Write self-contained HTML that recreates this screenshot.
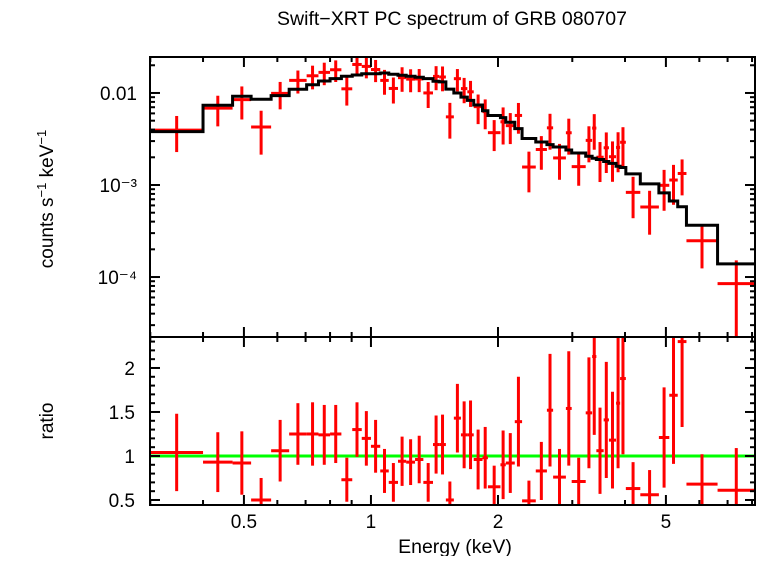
<!DOCTYPE html>
<html><head><meta charset="utf-8">
<style>
html,body{margin:0;padding:0;background:#fff;}
svg text{font-family:"Liberation Sans",sans-serif;fill:#000;}
</style></head>
<body>
<svg id="chart" width="758" height="556" viewBox="0 0 758 556" xmlns="http://www.w3.org/2000/svg">
<text x="452" y="25" font-size="19.5" text-anchor="middle">Swift−XRT PC spectrum of GRB 080707</text>
<text transform="translate(53,199) rotate(-90)" font-size="19" text-anchor="middle">counts s<tspan font-size="13" dy="-7">−1</tspan><tspan dy="7"> keV</tspan><tspan font-size="13" dy="-7">−1</tspan></text>
<text transform="translate(53,421) rotate(-90)" font-size="19" text-anchor="middle">ratio</text>
<text x="455" y="553" font-size="19.5" text-anchor="middle">Energy (keV)</text>
<g id="top"></g>
<g id="bot"></g>
</svg>
<script>
const edges=[0.30,0.40,0.47,0.52,0.58,0.64,0.704,0.751,0.80,0.851,0.903,0.951,1.00,1.052,1.102,1.159,1.212,1.272,1.331,1.403,1.451,1.505,1.572,1.634,1.692,1.752,1.838,1.893,2.027,2.087,2.192,2.281,2.458,2.612,2.702,2.897,2.99,3.228,3.343,3.421,3.56,3.664,3.809,3.894,4.018,4.348,4.812,5.093,5.333,5.593,6.628,8.13];
const model=[0.0038,0.00735,0.0092,0.00855,0.00935,0.01096,0.0123,0.0135,0.0143,0.0152,0.0157,0.0162,0.0162,0.0165,0.0160,0.0156,0.0152,0.0148,0.0143,0.0134,0.0132,0.0110,0.0100,0.0090,0.0083,0.0074,0.0064,0.0057,0.0054,0.0048,0.0041,0.0032,0.00293,0.00275,0.00259,0.0024,0.00223,0.00205,0.00195,0.00189,0.0018,0.00172,0.0016,0.00155,0.00132,0.00103,0.00082,0.00067,0.00058,0.000365,0.000139];
const ratio=[1.04,0.93,0.92,0.50,1.06,1.25,1.25,1.24,1.25,0.73,1.30,1.20,1.11,0.83,0.70,0.94,0.93,0.96,0.70,1.13,1.13,0.50,1.43,1.24,1.24,0.96,0.98,0.65,0.90,0.92,1.39,0.49,0.83,1.52,0.76,1.54,0.71,1.49,2.13,1.06,1.41,1.18,1.60,1.88,0.63,0.56,1.21,1.69,2.30,0.68,0.61];
const ratioErr=[0.44,0.34,0.36,0.25,0.35,0.35,0.36,0.34,0.33,0.25,0.31,0.31,0.30,0.25,0.22,0.28,0.26,0.27,0.22,0.33,0.34,0.21,0.39,0.38,0.39,0.34,0.35,0.24,0.39,0.34,0.51,0.23,0.33,0.64,0.32,0.65,0.27,0.63,0.89,0.49,0.66,0.55,0.74,0.86,0.30,0.28,0.57,0.78,0.97,0.34,0.48];
const xTicksMajor=[0.5,1,2,5];
const xTicksMinor=[0.3,0.4,0.6,0.7,0.8,0.9,3,4,6,7,8];
const yTopMajor=[0.01,0.001,0.0001];
const yTopLabels=["0.01","10⁻³","10⁻⁴"];
const yBotMajor=[0.5,1,1.5,2];
const yBotLabels=["0.5","1","1.5","2"];

const NS="http://www.w3.org/2000/svg";
const L=150,R=755,T1=57,B1=337,T2=337,B2=505;
const xMin=0.2995,xMax=8.13;
const xs=e=>L+(Math.log10(e)-Math.log10(xMin))/(Math.log10(xMax)-Math.log10(xMin))*(R-L);
const yTopMin=2.23e-5,yTopMax=0.0246;
const ysTop=v=>B1-(Math.log10(v)-Math.log10(yTopMin))/(Math.log10(yTopMax)-Math.log10(yTopMin))*(B1-T1);
const rMin=0.443,rMax=2.352;
const ysBot=v=>B2-(v-rMin)/(rMax-rMin)*(B2-T2);
function mk(tag,attrs,parent){const el=document.createElementNS(NS,tag);for(const k in attrs)el.setAttribute(k,attrs[k]);parent.appendChild(el);return el;}
const gT=document.getElementById('top'),gB=document.getElementById('bot');
function clampT(y){return Math.max(T1,Math.min(B1,y));}
function clampB(y){return Math.max(T2,Math.min(B2,y));}

for(let i=0;i<model.length;i++){
  const c=model[i]*ratio[i],lo=model[i]*(ratio[i]-ratioErr[i]),hi=model[i]*(ratio[i]+ratioErr[i]);
  const xc=xs(Math.sqrt(edges[i]*edges[i+1]));
  const g=mk('g',{},gT);
  
  
  mk('line',{x1:xs(edges[i]),x2:xs(edges[i+1]),y1:ysTop(c),y2:ysTop(c),stroke:'#f00','stroke-width':3},g);
  mk('line',{x1:xc,x2:xc,y1:clampT(ysTop(hi)),y2:lo>0?clampT(ysTop(lo)):B1,stroke:'#f00','stroke-width':3},g);
}
let d='';
for(let i=0;i<model.length;i++){const y=ysTop(model[i]);d+=(i?'L':'M')+xs(edges[i])+','+y+'L'+xs(edges[i+1])+','+y;}
const mp=mk('path',{d:d,fill:'none',stroke:'#000','stroke-width':3},gT);



const gl=mk('line',{x1:L,x2:R,y1:ysBot(1),y2:ysBot(1),stroke:'#0f0','stroke-width':3},gB);


for(let i=0;i<ratio.length;i++){
  const xc=xs(Math.sqrt(edges[i]*edges[i+1]));
  const g=mk('g',{},gB);
  
  
  const y=ysBot(ratio[i]);
  if(y>=T2&&y<=B2) mk('line',{x1:xs(edges[i]),x2:xs(edges[i+1]),y1:y,y2:y,stroke:'#f00','stroke-width':3},g);
  mk('line',{x1:xc,x2:xc,y1:clampB(ysBot(ratio[i]+ratioErr[i])),y2:clampB(ysBot(ratio[i]-ratioErr[i])),stroke:'#f00','stroke-width':3},g);
}

const ax=mk('g',{stroke:'#000','stroke-width':2,fill:'none'},document.getElementById('chart'));


mk('rect',{x:L,y:T1,width:R-L,height:B1-T1},ax);
mk('rect',{x:L,y:T2,width:R-L,height:B2-T2},ax);
function xt(v,len){const x=xs(v);
  mk('line',{x1:x,x2:x,y1:T1,y2:T1+len},ax);mk('line',{x1:x,x2:x,y1:B1-len,y2:B1+len},ax);mk('line',{x1:x,x2:x,y1:B2,y2:B2-len},ax);}
xTicksMajor.forEach(v=>xt(v,10));xTicksMinor.forEach(v=>xt(v,5));
function ytT(v,len){const y=ysTop(v);if(y<T1||y>B1)return;mk('line',{x1:L,x2:L+len,y1:y,y2:y},ax);mk('line',{x1:R,x2:R-len,y1:y,y2:y},ax);}
for(let e=-5;e<=-1;e++)for(let m=1;m<=9;m++)ytT(m*Math.pow(10,e),m==1?10:5);
function ytB(v,len){const y=ysBot(v);mk('line',{x1:L,x2:L+len,y1:y,y2:y},ax);mk('line',{x1:R,x2:R-len,y1:y,y2:y},ax);}
for(let k=5;k<=23;k++)ytB(k/10,k%5==0?10:5);

const svg=document.getElementById('chart');
yTopMajor.forEach((v,i)=>{const t=mk('text',{x:137,y:ysTop(v)+7,'font-size':19,'text-anchor':'end'},svg);t.textContent=yTopLabels[i];
  
  });
yBotMajor.forEach((v,i)=>{const t=mk('text',{x:135,y:ysBot(v)+7,'font-size':19,'text-anchor':'end'},svg);t.textContent=yBotLabels[i];
  
  });
xTicksMajor.forEach(v=>{const t=mk('text',{x:xs(v),y:528,'font-size':19,'text-anchor':'middle'},svg);t.textContent=String(v);
  
  });
</script>
</body></html>
